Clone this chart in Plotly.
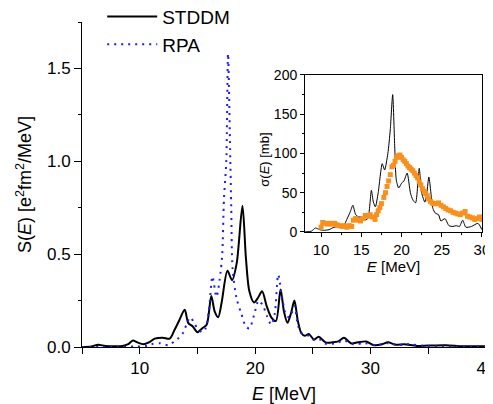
import plotly.graph_objects as go

# ---- main panel data: strength function S(E) [e^2 fm^2 / MeV] ----
stddm_E = [5.0, 5.8, 6.4, 7.0, 7.8, 8.5, 9.0, 9.4, 9.8, 10.3, 10.8, 11.3, 12.0, 12.6, 13.0,
           13.4, 13.9, 14.2, 14.6, 15.0, 15.4, 15.8, 16.2, 16.5, 16.8, 17.1, 17.6, 18.0, 18.4,
           18.9, 19.2, 19.5, 19.9, 20.2, 20.6, 21.0, 21.4, 21.8, 22.2, 22.5, 22.8, 23.1, 23.4,
           23.7, 24.0, 24.3, 24.65, 25.1, 25.5, 26.1, 26.7, 27.2, 27.7, 28.3, 28.9, 29.6, 30.3,
           31.0, 31.5, 32.2, 32.9, 34.0, 35.0, 36.5, 38.0, 40.0]
stddm_S = [0.0, 0.003, 0.012, 0.006, 0.004, 0.005, 0.015, 0.035, 0.025, 0.015, 0.025, 0.045,
           0.05, 0.045, 0.09, 0.14, 0.2, 0.13, 0.11, 0.08, 0.1, 0.12, 0.275, 0.19, 0.16, 0.24,
           0.41, 0.36, 0.45, 0.76, 0.48, 0.3, 0.24, 0.26, 0.30, 0.22, 0.16, 0.14, 0.31, 0.19,
           0.13, 0.18, 0.25, 0.14, 0.075, 0.06, 0.07, 0.04, 0.055, 0.025, 0.025, 0.03, 0.05,
           0.02, 0.025, 0.03, 0.01, 0.015, 0.025, 0.012, 0.015, 0.006, 0.008, 0.01, 0.004, 0.004]

rpa_E = [5.0, 8.0, 9.5, 10.5, 11.0, 11.8, 12.5, 13.0, 13.4, 13.8, 14.1, 14.4, 14.7, 15.0,
         15.4, 15.7, 16.0, 16.3, 16.65, 17.0, 17.15, 17.3, 17.5, 17.65, 17.85, 17.93, 18.05,
         18.4, 18.8, 19.2, 19.5, 19.9, 20.3, 20.7, 21.0, 21.4, 21.7, 22.0, 22.3, 22.7, 23.0,
         23.4, 23.7, 24.0, 24.4, 24.8, 25.2, 25.6, 26.0, 27.0, 27.7, 28.5, 29.5, 30.5, 31.5,
         32.5, 33.0, 35.0, 40.0]
rpa_S = [0.0, 0.0, 0.003, 0.005, 0.015, 0.02, 0.01, 0.03, 0.05, 0.08, 0.13, 0.16, 0.13, 0.1,
         0.08, 0.1, 0.2, 0.38, 0.27, 0.4, 0.5, 0.8, 1.0, 1.58, 1.0, 0.75, 0.42, 0.26, 0.18,
         0.11, 0.1, 0.17, 0.25, 0.22, 0.17, 0.12, 0.18, 0.39, 0.28, 0.17, 0.16, 0.22, 0.12,
         0.075, 0.07, 0.05, 0.035, 0.04, 0.02, 0.02, 0.035, 0.015, 0.02, 0.01, 0.02, 0.01,
         0.015, 0.005, 0.003]

# ---- inset data: cross section sigma(E) [mb] ----
inset_E = [8.0, 8.8, 9.3, 9.8, 10.3, 11.0, 11.6, 12.3, 12.8, 13.2, 13.6, 13.95, 14.3, 14.7,
           15.0, 15.3, 15.8, 16.25, 16.5, 16.75, 17.1, 17.6, 17.9, 18.3, 18.6, 18.9, 19.15,
           19.35, 19.65, 20.0, 20.3, 20.7, 21.1, 21.4, 21.75, 22.2, 22.5, 22.9, 23.15, 23.4,
           23.9, 24.2, 24.6, 24.9, 25.4, 25.9, 26.4, 26.8, 27.2, 27.6, 28.0, 28.7, 29.5, 30.0]
inset_sigma = [0, 1, 5, 3, 2, 3, 6, 7, 8, 16, 25, 34, 22, 19, 19, 15, 17, 53, 38, 32, 50, 87,
               79, 100, 130, 175, 110, 66, 56, 62, 65, 75, 50, 41, 37, 81, 50, 38, 50, 70, 30,
               24, 22, 14, 17, 8, 7, 8, 7, 15, 6, 7, 11, 3]

exp_E = [10.0, 10.2, 10.5, 10.8, 11.1, 11.4, 11.7, 12.0, 12.3, 12.6, 12.9, 13.2, 13.5, 13.8,
         14.0, 14.3, 14.6, 14.9, 15.2, 15.5, 15.8, 16.1, 16.4, 16.7, 16.9, 17.1, 17.3, 17.5,
         17.8, 18.0, 18.2, 18.4, 18.6, 18.8, 19.0, 19.2, 19.4, 19.6, 19.8, 20.0, 20.2, 20.4,
         20.6, 20.8, 21.0, 21.2, 21.4, 21.6, 21.8, 22.0, 22.2, 22.4, 22.6, 22.8, 23.0, 23.2,
         23.4, 23.6, 23.8, 24.0, 24.3, 24.6, 24.9, 25.2, 25.5, 25.8, 26.1, 26.4, 26.7, 27.0,
         27.3, 27.6, 27.9, 28.2, 28.5, 28.8, 29.1, 29.4, 29.7, 30.0]
exp_sigma = [6, 12, 11, 10, 11, 10, 11, 9, 8, 7, 8, 6, 8, 7, 15, 17, 15, 14, 17, 21, 20, 22,
             19, 16, 22, 27, 31, 36, 44, 50, 58, 65, 73, 83, 85, 90, 95, 97, 98, 95, 92, 90,
             87, 84, 82, 80, 78, 75, 72, 69, 64, 60, 55, 52, 49, 46, 42, 39, 37, 36, 36, 37,
             34, 32, 30, 28, 27, 25, 24, 23, 22, 24, 26, 20, 19, 18, 16, 17, 19, 16]

FONT = "Liberation Sans, Arial, Noto Sans CJK JP, sans-serif"

fig = go.Figure()
fig.add_trace(go.Scatter(x=stddm_E, y=stddm_S, mode="lines", name="STDDM",
                         line=dict(color="black", width=2, shape="spline", smoothing=0.8),
                         xaxis="x", yaxis="y"))
fig.add_trace(go.Scatter(x=rpa_E, y=rpa_S, mode="lines", name="RPA",
                         line=dict(color="#1a1aff", width=2, dash="2px,5px",
                                   shape="spline", smoothing=0.8),
                         xaxis="x", yaxis="y"))
fig.add_trace(go.Scatter(x=inset_E, y=inset_sigma, mode="lines", showlegend=False,
                         line=dict(color="black", width=1, shape="spline", smoothing=0.6),
                         xaxis="x2", yaxis="y2"))
fig.add_trace(go.Scatter(x=exp_E, y=exp_sigma, mode="markers", showlegend=False,
                         marker=dict(symbol="square", size=5, color="#f7901e"),
                         xaxis="x2", yaxis="y2"))

axis_common = dict(showline=True, linecolor="black", linewidth=1, ticks="outside",
                   tickcolor="black", showgrid=False, zeroline=False, automargin=False)

fig.update_layout(
    width=493, height=404,
    margin=dict(l=74, r=15, t=14, b=65, autoexpand=False),
    paper_bgcolor="white", plot_bgcolor="white",
    font=dict(family=FONT, color="black"),
    showlegend=True,
    legend=dict(x=0.05, y=1.075, xanchor="left", yanchor="top",
                bgcolor="rgba(0,0,0,0)", font=dict(size=19), itemwidth=50,
                tracegroupgap=0),
    xaxis=dict(**axis_common, range=[5, 40], tick0=0, dtick=10, ticklen=6,
               tickfont=dict(size=17),
               minor=dict(dtick=5, ticks="outside", ticklen=6, tickcolor="black"),
               title=dict(text="<i>E</i> [MeV]", font=dict(size=18), standoff=9)),
    yaxis=dict(**axis_common, range=[0, 1.75], tick0=0, dtick=0.5, ticklen=7,
               tickformat=".1f", tickfont=dict(size=17),
               minor=dict(dtick=0.25, ticks="outside", ticklen=3, tickcolor="black"),
               title=dict(text="S(<i>E</i>) [e<sup>2</sup>fm<sup>2</sup>/MeV]",
                          font=dict(size=18), standoff=10)),
    xaxis2=dict(**axis_common, domain=[0.552, 0.99], anchor="y2", range=[8, 30],
                tick0=0, dtick=5, ticklen=4, mirror=True, tickfont=dict(size=15),
                minor=dict(dtick=2.5, ticks="outside", ticklen=2, tickcolor="black"),
                title=dict(text="<i>E</i> [MeV]", font=dict(size=15), standoff=0)),
    yaxis2=dict(**axis_common, domain=[0.354, 0.837], anchor="x2", range=[0, 200],
                tick0=0, dtick=50, ticklen=4, mirror=True, tickfont=dict(size=14),
                minor=dict(dtick=25, ticks="outside", ticklen=2, tickcolor="black")),
    annotations=[dict(text="σ(<i>E</i>) [mb]", xref="paper", yref="paper",
                      x=0.452, y=0.575, xanchor="center", yanchor="middle",
                      textangle=-90, showarrow=False, font=dict(size=13))],
)

fig.write_html("out.html")
